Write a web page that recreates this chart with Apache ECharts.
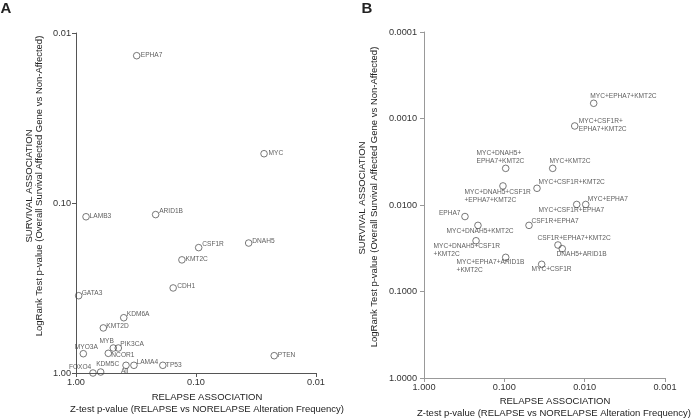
<!DOCTYPE html>
<html>
<head>
<meta charset="utf-8">
<script src="https://cdn.jsdelivr.net/npm/echarts@6/dist/echarts.min.js"></script>
<style>html,body{margin:0;padding:0;background:#fff;}#c{width:692px;height:419px;}</style>
</head>
<body>
<div id="c"></div>
<script>
// ---------- Panel A data (single genes) ----------
var genesA = ['EPHA7','MYC','LAMB3','ARID1B','CSF1R','DNAH5','KMT2C','CDH1','GATA3','KDM6A','KMT2D','MYB','PIK3CA','MYO3A','NCOR1','PTEN','KDM5C','All','LAMA4','TP53','FOXO4'];
var relapsePA = [0.312,0.0271,0.825,0.217,0.095,0.0364,0.131,0.155,0.95,0.40,0.592,0.489,0.444,0.869,0.538,0.0223,0.623,0.383,0.329,0.189,0.722];
var survivalPA = [0.0136,0.0513,0.1205,0.117,0.183,0.172,0.216,0.316,0.351,0.473,0.543,0.713,0.713,0.770,0.766,0.791,0.987,0.901,0.901,0.901,1.0];

// ---------- Panel B data (gene combinations) ----------
var combosB = ['MYC+EPHA7+KMT2C','MYC+CSF1R+EPHA7+KMT2C','MYC+DNAH5+EPHA7+KMT2C','MYC+KMT2C','MYC+DNAH5+CSF1R+EPHA7+KMT2C','MYC+CSF1R+KMT2C','MYC+EPHA7','MYC+CSF1R+EPHA7','EPHA7','MYC+DNAH5+KMT2C','CSF1R+EPHA7','MYC+DNAH5+CSF1R+KMT2C','CSF1R+EPHA7+KMT2C','DNAH5+ARID1B','MYC+EPHA7+ARID1B+KMT2C','MYC+CSF1R'];
var relapsePB = [0.00772,0.0133,0.0962,0.025,0.104,0.0392,0.0097,0.01256,0.309,0.213,0.0493,0.225,0.0215,0.019,0.0962,0.0343];
var survivalPB = [0.000667,0.00122,0.00377,0.00377,0.00602,0.00641,0.00986,0.00986,0.0136,0.0172,0.0172,0.0259,0.029,0.032,0.0403,0.0485];

// ---------- Tick labels ----------
var ticksA = ['0.01','0.10','1.00'];
var ticksBx = ['0.001','0.010','0.100','1.000'];
var ticksBy = ['0.0001','0.0010','0.0100','0.1000','1.0000'];

// ---------- label placement (styling): [dx, dy, align, displayText] ----------
var placeA = {
  'EPHA7':[4.5,0,'left'],'MYC':[5,0,'left'],'LAMB3':[4,0,'left'],'ARID1B':[4,-3,'left'],
  'CSF1R':[4,-3,'left'],'DNAH5':[4,-1.5,'left'],'KMT2C':[4,0,'left'],'CDH1':[4.5,-1,'left'],
  'GATA3':[3.5,-2,'left'],'KDM6A':[3.5,-3,'left'],'KMT2D':[3.5,-1,'left'],'MYB':[1,-6,'right'],
  'PIK3CA':[2.5,-3.5,'left'],'MYO3A':[3.5,-6,'center'],'NCOR1':[3.5,2.5,'left'],'PTEN':[4,-0.5,'left'],
  'KDM5C':[-4,-7.3,'left'],'All':[-1,6,'center'],'LAMA4':[3,-2.7,'left'],'TP53':[3.5,0,'left'],
  'FOXO4':[-1.3,-5.6,'right']
};
var placeB = {
  'MYC+EPHA7+KMT2C':[-3,-6.5,'left'],
  'MYC+CSF1R+EPHA7+KMT2C':[4.5,0,'left','MYC+CSF1R+\nEPHA7+KMT2C'],
  'MYC+DNAH5+EPHA7+KMT2C':[-28.7,-10.3,'left','MYC+DNAH5+\nEPHA7+KMT2C'],
  'MYC+KMT2C':[-2.7,-6.3,'left'],
  'MYC+DNAH5+CSF1R+EPHA7+KMT2C':[-38,11,'left','MYC+DNAH5+CSF1R\n+EPHA7+KMT2C'],
  'MYC+CSF1R+KMT2C':[2,-5.3,'left'],
  'MYC+EPHA7':[2.5,-4.5,'left'],
  'MYC+CSF1R+EPHA7':[-37.7,6.5,'left'],
  'EPHA7':[-4,-2.7,'right'],
  'MYC+DNAH5+KMT2C':[-31,6.7,'left'],
  'CSF1R+EPHA7':[3,-3.3,'left'],
  'MYC+DNAH5+CSF1R+KMT2C':[-42,9.5,'left','MYC+DNAH5+CSF1R\n+KMT2C'],
  'CSF1R+EPHA7+KMT2C':[-20,-6,'left'],
  'DNAH5+ARID1B':[-5.3,6.3,'left'],
  'MYC+EPHA7+ARID1B+KMT2C':[-48.7,9.7,'left','MYC+EPHA7+ARID1B\n+KMT2C'],
  'MYC+CSF1R':[-9.7,5.7,'left']
};

var FONT = 'Liberation Sans, Arial, sans-serif';
var SYM = 6.6;

function buildData(names, xs, ys, place) {
  return names.map(function (n, i) {
    var p = place[n];
    return {
      name: n,
      value: [xs[i], ys[i]],
      label: {
        show: true,
        position: [SYM / 2 + p[0], SYM / 2 + p[1]],
        align: p[2],
        verticalAlign: 'middle',
        formatter: p[3] || n
      }
    };
  });
}

function fmt(list) {
  return function (v) {
    var e = Math.round(-Math.log10(v));
    return list[list.length - 1 - e] !== undefined ? list[list.length - 1 - e] : '';
  };
}

var axisColA = '#555';
var axisColB = '#999';

function mkAxis(gridIndex, min, max, col, labels, margin) {
  return {
    type: 'log', logBase: 10, gridIndex: gridIndex, min: min, max: max, inverse: true,
    axisLine: { show: true, onZero: false, lineStyle: { color: col, width: 1 } },
    axisTick: { show: true, length: 4, lineStyle: { color: col } },
    splitLine: { show: false },
    minorTick: { show: false },
    axisLabel: {
      show: true, margin: margin, color: '#333', fontSize: 9.2, fontFamily: FONT,
      formatter: fmt(labels), showMinLabel: true, showMaxLabel: true, hideOverlap: false
    }
  };
}

var labelStyle = { fontSize: 6.6, fontFamily: FONT, color: '#333', lineHeight: 8 };
var itemStyle = { color: 'rgba(255,255,255,0)', borderColor: '#444', borderWidth: 0.9 };

var titleFont = '9.5px ' + FONT;
function txt(text, x, y, rot, font) {
  return {
    type: 'text', x: x, y: y, rotation: rot || 0, silent: true,
    style: { text: text, font: font || titleFont, fill: '#222', align: 'center', verticalAlign: 'middle' }
  };
}

var option = {
  backgroundColor: '#fff',
  animation: false,
  grid: [
    { left: 76, top: 33, width: 240, height: 340 },
    { left: 424, top: 32, width: 241, height: 346 }
  ],
  xAxis: [
    mkAxis(0, 0.01, 1, axisColA, ticksA, 5),
    mkAxis(1, 0.001, 1, axisColB, ticksBx, 5)
  ],
  yAxis: [
    mkAxis(0, 0.01, 1, axisColA, ticksA, 5),
    mkAxis(1, 0.0001, 1, axisColB, ticksBy, 7)
  ],
  series: [
    {
      type: 'scatter', xAxisIndex: 0, yAxisIndex: 0, clip: false,
      symbol: 'circle', symbolSize: SYM, itemStyle: itemStyle, label: labelStyle,
      data: buildData(genesA, relapsePA, survivalPA, placeA)
    },
    {
      type: 'scatter', xAxisIndex: 1, yAxisIndex: 1, clip: false,
      symbol: 'circle', symbolSize: SYM, itemStyle: itemStyle, label: labelStyle,
      data: buildData(combosB, relapsePB, survivalPB, placeB)
    }
  ],
  graphic: [
    txt('A', 6, 8.5, 0, 'bold 15px ' + FONT),
    txt('B', 367, 8.5, 0, 'bold 15px ' + FONT),
    txt('RELAPSE ASSOCIATION', 207, 397),
    txt('Z-test p-value (RELAPSE vs NORELAPSE Alteration Frequency)', 207, 409),
    txt('RELAPSE ASSOCIATION', 555, 401.5),
    txt('Z-test p-value (RELAPSE vs NORELAPSE Alteration Frequency)', 554, 413),
    txt('SURVIVAL ASSOCIATION', 29, 186, Math.PI / 2),
    txt('LogRank Test p-value (Overall Survival Affected Gene vs Non-Affected)', 39, 186, Math.PI / 2),
    txt('SURVIVAL ASSOCIATION', 362, 198, Math.PI / 2),
    txt('LogRank Test p-value (Overall Survival Affected Gene vs Non-Affected)', 374.5, 197, Math.PI / 2)
  ]
};

var chart = echarts.init(document.getElementById('c'), null, { renderer: 'canvas' });
chart.setOption(option);
</script>
</body>
</html>
